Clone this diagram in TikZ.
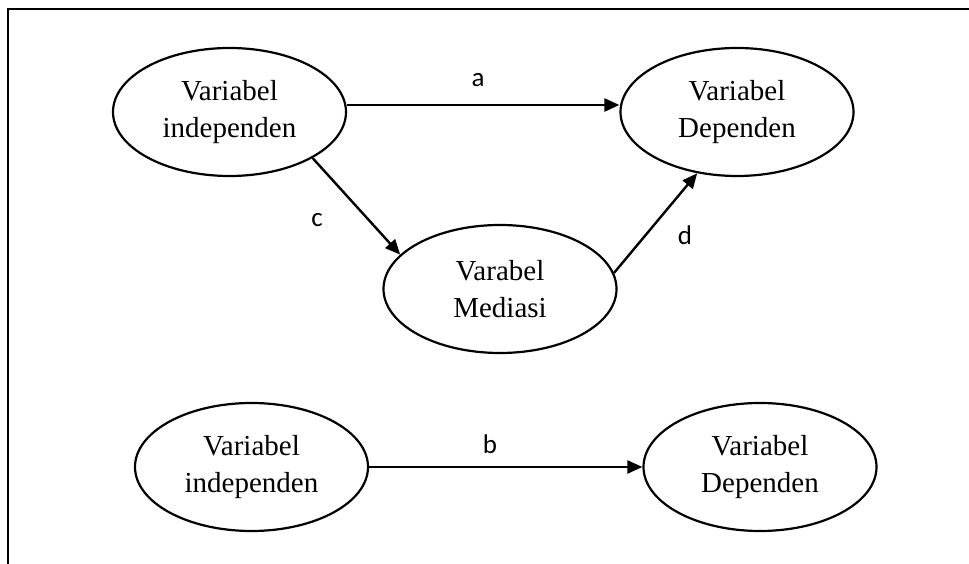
\documentclass[tikz,border=0pt]{standalone}
\usepackage{fontspec}
\setmainfont{Liberation Serif}
\newfontfamily\lblfont{Carlito}
\usepackage{tikz}
\usetikzlibrary{arrows.meta,positioning,shapes.geometric}

\begin{document}
\begin{tikzpicture}[
  x=1pt,y=1pt,
  var/.style={ellipse,draw,line width=2.2pt,minimum width=233pt,minimum height=128pt,inner sep=0pt,align=center,font=\fontsize{29}{37}\selectfont},
  arrow/.style={-{Triangle[length=15pt,width=13pt]},line width=2.4pt},
  lbl/.style={font=\lblfont\fontsize{27}{30}\selectfont,inner sep=0pt}
]
\useasboundingbox (0,0) rectangle (969,564);
% frame
\draw[line width=2.2pt] (8,0) -- (8,555) -- (969,555);
% top: mediation model
\node[var] (ind1) at (229.5,452) {Variabel\\independen};
\node[var] (dep1) at (737,452) {Variabel\\Dependen};
\node[var] (med) at (500,275) {Varabel\\Mediasi};
% bottom: direct model
\node[var] (ind2) at (251.5,97) {Variabel\\independen};
\node[var] (dep2) at (760,97) {Variabel\\Dependen};
\draw[arrow] ([yshift=7pt]ind1.east) -- ([yshift=7pt]dep1.west);
\draw[arrow] (ind1.-29) -- (med.161);
\draw[arrow] (med.8) -- (dep1.-123);
\draw[arrow] (ind2.east) -- (dep2.west);
\node[lbl] (la) at (478,484) {a};
\node[lbl] (lc) at (317,344) {c};
\node[lbl] (ld) at (685,329) {d};
\node[lbl] (lb) at (490,120) {b};
\end{tikzpicture}
\end{document}
